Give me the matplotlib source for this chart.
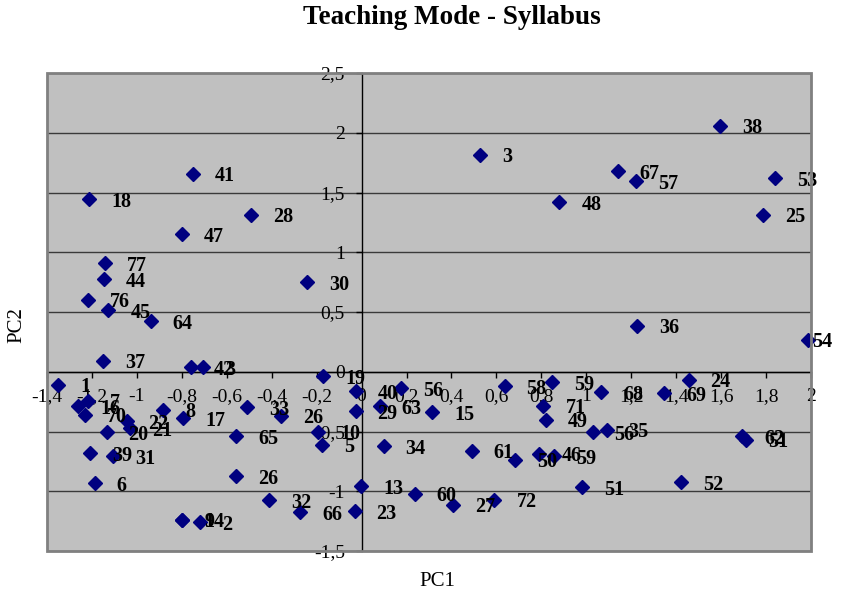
import matplotlib
matplotlib.use("Agg")
import matplotlib.pyplot as plt
from matplotlib.patches import Rectangle

# ---- data ----
labels = ["1", "7", "16", "70", "20", "22", "21", "39", "31", "6",
          "8", "17", "9", "14", "2", "18", "77", "44", "76", "45",
          "64", "37", "41", "47", "28", "30", "42", "3", "19", "33",
          "26", "65", "10", "5", "26", "32", "66", "23", "13", "40",
          "29", "63", "56", "34", "15", "60", "27", "72", "61", "50",
          "46", "59", "58", "59", "71", "49", "56", "35", "68", "69",
          "24", "62", "51", "51", "52", "3", "48", "67", "57", "38",
          "53", "25", "36", "54"]
pc1 = [-1.350, -1.216, -1.261, -1.231, -1.135, -1.046, -1.031, -1.209, -1.105, -1.187,
       -0.883, -0.794, -0.797, -0.797, -0.718, -1.212, -1.142, -1.147, -1.216, -1.127,
       -0.939, -1.150, -0.750, -0.799, -0.493, -0.241, -0.757, -0.705, -0.172, -0.510,
       -0.357, -0.557, -0.194, -0.175, -0.560, -0.412, -0.272, -0.031, -0.001, -0.027,
       -0.027, 0.080, 0.176, 0.098, 0.314, 0.236, 0.409, 0.591, 0.490, 0.684,
       0.791, 0.858, 0.636, 0.847, 0.809, 0.821, 1.028, 1.090, 1.065, 1.347,
       1.455, 1.695, 1.710, 0.981, 1.421, 0.527, 0.880, 1.139, 1.221, 1.594,
       1.839, 1.787, 1.225, 1.988]
pc2 = [-0.110, -0.243, -0.290, -0.360, -0.505, -0.416, -0.471, -0.681, -0.709, -0.932,
       -0.318, -0.388, -1.238, -1.238, -1.261, 1.445, 0.910, 0.776, 0.603, 0.513,
       0.421, 0.092, 1.657, 1.152, 1.314, 0.750, 0.036, 0.039, -0.039, -0.299,
       -0.368, -0.541, -0.500, -0.611, -0.876, -1.077, -1.177, -1.169, -0.960, -0.165,
       -0.332, -0.290, -0.137, -0.625, -0.340, -1.021, -1.113, -1.071, -0.661, -0.736,
       -0.686, -0.709, -0.123, -0.089, -0.285, -0.402, -0.508, -0.485, -0.173, -0.179,
       -0.067, -0.541, -0.569, -0.965, -0.926, 1.816, 1.417, 1.676, 1.593, 2.059,
       1.621, 1.314, 0.385, 0.268]

x_ticks = [-1.4, -1.2, -1.0, -0.8, -0.6, -0.4, -0.2, 0.0, 0.2, 0.4, 0.6, 0.8,
           1.0, 1.2, 1.4, 1.6, 1.8, 2.0]
x_tick_labels = ["-1,4", "-1,2", "-1", "-0,8", "-0,6", "-0,4", "-0,2", "0", "0,2",
                 "0,4", "0,6", "0,8", "1", "1,2", "1,4", "1,6", "1,8", "2"]
y_ticks = [-1.5, -1.0, -0.5, 0.0, 0.5, 1.0, 1.5, 2.0, 2.5]
y_tick_labels = ["-1,5", "-1", "-0,5", "0", "0,5", "1", "1,5", "2", "2,5"]

title = "Teaching Mode - Syllabus"
xlab = "PC1"
ylab = "PC2"

# ---- figure ----
plt.rcParams['font.family'] = ['Liberation Serif', 'DejaVu Serif']
W, H = 841, 598
fig = plt.figure(figsize=(W / 100, H / 100), dpi=100)
fig.patch.set_facecolor('white')
ax = fig.add_axes([47 / W, 1 - 551 / H, (811 - 47) / W, (551 - 73) / H])
ax.set_facecolor('#C0C0C0')
ax.set_xlim(-1.4, 2.0)
ax.set_ylim(-1.5, 2.5)

ax.yaxis.grid(True, color='#3a3a3a', linewidth=1.0)
ax.xaxis.grid(False)
ax.set_axisbelow(True)

for s in ['top', 'right']:
    ax.spines[s].set_visible(False)
ax.spines['left'].set_position(('data', 0))
ax.spines['bottom'].set_position(('data', 0))
for s in ['left', 'bottom']:
    ax.spines[s].set_color('black')
    ax.spines[s].set_linewidth(1.0)
    ax.spines[s].set_zorder(2)

ax.set_xticks(x_ticks)
ax.set_xticklabels(x_tick_labels)
ax.set_yticks(y_ticks)
ax.set_yticklabels(y_tick_labels)
ax.tick_params(axis='both', direction='out', length=4, width=1, color='black',
               labelsize=14, pad=8)

frame = Rectangle((0, 0), 1, 1, transform=ax.transAxes, fill=False,
                  edgecolor='#808080', linewidth=2, zorder=5, clip_on=False)
ax.add_patch(frame)

ax.plot(pc1, pc2, linestyle='none', marker='D', markersize=7.5,
        color='#000080', zorder=3, clip_on=False)

for lab, x, y in zip(labels, pc1, pc2):
    dx = 22 if x < 1.95 else 4
    ax.annotate(lab, (x, y), xytext=(dx, 0), textcoords='offset pixels',
                ha='left', va='center_baseline', fontsize=14.5, fontweight='bold',
                color='black', zorder=4, annotation_clip=False)

fig.text(452 / W, 1 - 18 / H, title, ha='center', va='center',
         fontsize=19.5, fontweight='bold')
fig.text(437 / W, 1 - 582 / H, xlab, ha='center', va='center', fontsize=15)
fig.text(17 / W, 1 - 325 / H, ylab, ha='center', va='center', fontsize=15,
         rotation=90)

fig.savefig('out.png', dpi=100)
